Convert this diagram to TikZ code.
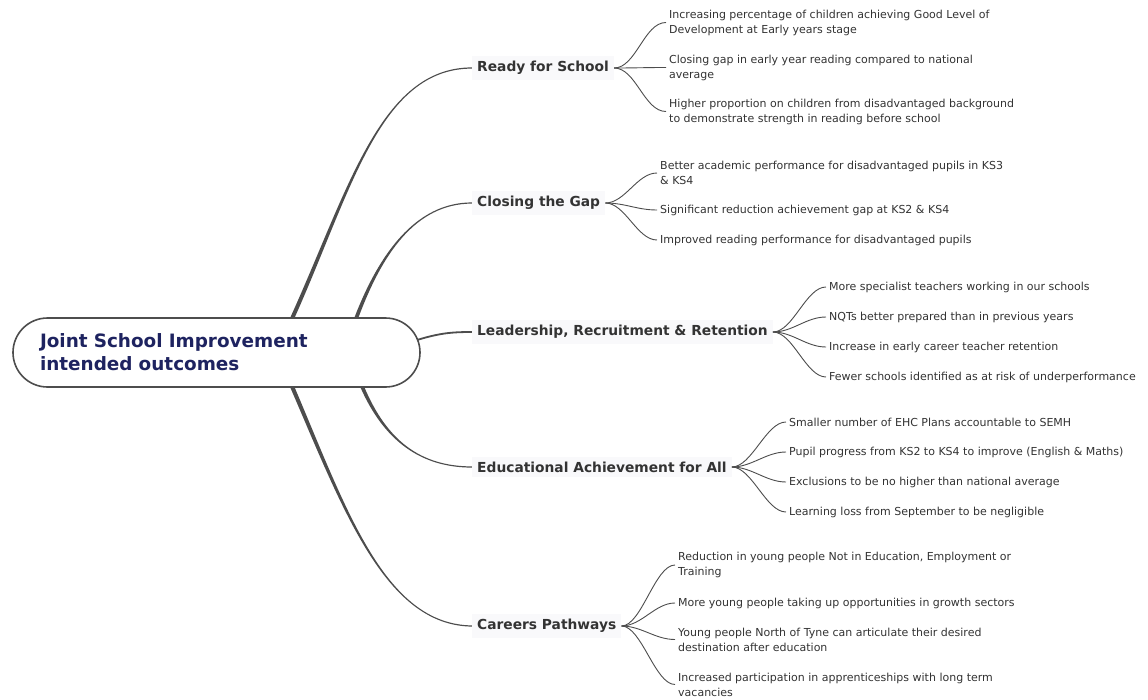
\documentclass[tikz,border=0pt]{standalone}
\usepackage{fontspec}
\setmainfont{DejaVu Sans}
\usetikzlibrary{calc,backgrounds}

\definecolor{hubink}{HTML}{1E2360}
\definecolor{ink}{HTML}{333333}
\definecolor{limbgray}{HTML}{4D4D4D}
\definecolor{tint}{HTML}{F9F9FB}

% Tapered main branch: start, control 1, control 2, end, half width at the start
% (a negative half width for branches that run downwards)
\newcommand\taperlimb[5]{%
  \fill[limbgray]
    ($(#1)+({-(#5)},0)$) .. controls ($(#2)+({-0.8*(#5)},0)$) and ($(#3)+(0,-0.6)$) .. ($(#4)+(0,-0.6)$)
    -- ($(#4)+(0,0.6)$) .. controls ($(#3)+(0,0.6)$) and ($(#2)+({0.8*(#5)},0)$) .. ($(#1)+({(#5)},0)$)
    -- cycle;}

\tikzset{
  hub/.style={draw=limbgray, line width=1.6pt, fill=white, rounded corners=34.5pt,
    minimum height=69pt, text width=353pt, inner xsep=27pt, align=left,
    text=hubink, font=\bfseries\fontsize{18.4}{23}\selectfont},
  topic/.style={anchor=west, inner xsep=5pt, inner ysep=5pt, fill=tint,
    text=ink, font=\bfseries\fontsize{13.8}{16}\selectfont},
  leaf/.style={anchor=west, inner xsep=3pt, inner ysep=2pt, align=left,
    text=ink, font=\fontsize{11}{15}\selectfont},
  twig/.style={draw=limbgray, line width=0.9pt},
  stem/.style={draw=limbgray, line width=1.8pt}
}

\begin{document}
\begin{tikzpicture}[x=1pt,y=-1pt]
\useasboundingbox (0,0) rectangle (1148,699);

% central topic
\node[hub] (hub) at (216.5,352.5) {Joint School Improvement\\intended outcomes};

% main topics
\node[topic] (ready)   at (472,68)  {Ready for School};
\node[topic] (gap)     at (472,203) {Closing the Gap};
\node[topic] (lead)    at (472,332) {Leadership, Recruitment \& Retention};
\node[topic] (edu)     at (472,467) {Educational Achievement for All};
\node[topic] (careers) at (472,626) {Careers Pathways};

% roots of the main branches on the central topic
\coordinate (rootA) at ($(hub.north west)+(280,1)$);
\coordinate (rootB) at ($(hub.north west)+(344,1)$);
\coordinate (rootC) at (417,340);
\coordinate (rootD) at ($(hub.south west)+(350,-1)$);
\coordinate (rootE) at ($(hub.south west)+(280,-1)$);

\begin{pgfonlayer}{background}
  \fill[white] (0,0) rectangle (1148,699);
  \taperlimb{rootA}{350,190}{380,68}{ready.west}{2.2}
  \taperlimb{rootB}{380,255}{415,203}{gap.west}{2}
  \draw[stem] (rootC) .. controls (440,333) and (452,332) .. (lead.west);
  \taperlimb{rootD}{385,440}{420,467}{edu.west}{-2}
  \taperlimb{rootE}{345,510}{385,625}{careers.west}{-2.2}
\end{pgfonlayer}

% Ready for School
\node[leaf] (r1) at (666,22.5)  {Increasing percentage of children achieving Good Level of\\Development at Early years stage};
\node[leaf] (r2) at (666,67.5)  {Closing gap in early year reading compared to national\\average};
\node[leaf] (r3) at (666,111.5) {Higher proportion on children from disadvantaged background\\to demonstrate strength in reading before school};
\foreach \n in {r1,r2,r3}
  \draw[twig] (ready.east) .. controls +(22,0) and +(-22,0) .. (\n.west);

% Closing the Gap
\node[leaf] (g1) at (657,173) {Better academic performance for disadvantaged pupils in KS3\\\& KS4};
\node[leaf] (g2) at (657,210) {Significant reduction achievement gap at KS2 \& KS4};
\node[leaf] (g3) at (657,240) {Improved reading performance for disadvantaged pupils};
\foreach \n in {g1,g2,g3}
  \draw[twig] (gap.east) .. controls +(20,0) and +(-20,0) .. (\n.west);

% Leadership, Recruitment & Retention
\node[leaf] (l1) at (826,287) {More specialist teachers working in our schools};
\node[leaf] (l2) at (826,317) {NQTs better prepared than in previous years};
\node[leaf] (l3) at (826,347) {Increase in early career teacher retention};
\node[leaf] (l4) at (826,377) {Fewer schools identified as at risk of underperformance};
\foreach \n in {l1,l2,l3,l4}
  \draw[twig] (lead.east) .. controls +(20,0) and +(-20,0) .. (\n.west);

% Educational Achievement for All
\node[leaf] (e1) at (786,422) {Smaller number of EHC Plans accountable to SEMH};
\node[leaf] (e2) at (786,452) {Pupil progress from KS2 to KS4 to improve (English \& Maths)};
\node[leaf] (e3) at (786,482) {Exclusions to be no higher than national average};
\node[leaf] (e4) at (786,512) {Learning loss from September to be negligible};
\foreach \n in {e1,e2,e3,e4}
  \draw[twig] (edu.east) .. controls +(20,0) and +(-20,0) .. (\n.west);

% Careers Pathways
\node[leaf] (c1) at (675,565)   {Reduction in young people Not in Education, Employment or\\Training};
\node[leaf] (c2) at (675,603)   {More young people taking up opportunities in growth sectors};
\node[leaf] (c3) at (675,639.5) {Young people North of Tyne can articulate their desired\\destination after education};
\node[leaf] (c4) at (675,684.5) {Increased participation in apprenticeships with long term\\vacancies};
\foreach \n in {c1,c2,c3,c4}
  \draw[twig] (careers.east) .. controls +(20,0) and +(-20,0) .. (\n.west);
\end{tikzpicture}
\end{document}
